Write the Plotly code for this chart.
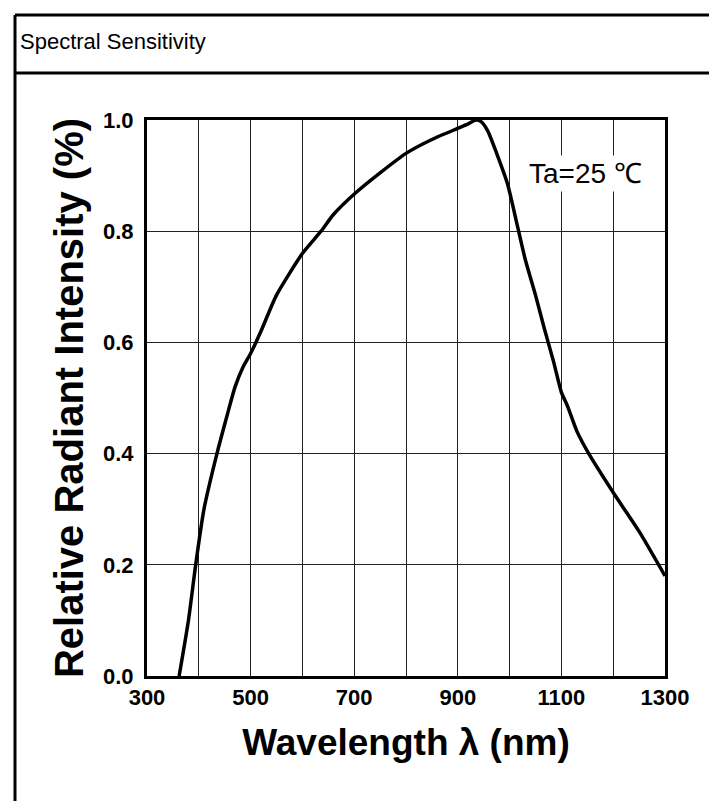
import plotly.graph_objects as go

# Data
wavelength = [362, 380, 394, 410, 435, 455, 470, 485, 500, 520, 550, 600, 636, 660, 704, 750,
              800, 850, 900, 920, 935, 945, 958, 975, 996, 1015, 1030, 1050, 1067, 1085, 1100,
              1112, 1130, 1154, 1200, 1250, 1300]
intensity = [0.0, 0.1, 0.2, 0.3, 0.4, 0.47, 0.52, 0.555, 0.58, 0.62, 0.685, 0.76, 0.8, 0.83, 0.87, 0.905,
             0.94, 0.965, 0.985, 0.993, 1.0, 0.997, 0.98, 0.94, 0.885, 0.81, 0.75, 0.685, 0.625, 0.565, 0.51,
             0.485, 0.44, 0.398, 0.33, 0.26, 0.18]

x_grid = [300, 400, 500, 600, 700, 800, 900, 1000, 1100, 1200, 1300]
x_labels = ["300", "", "500", "", "700", "", "900", "", "1100", "", "1300"]
y_grid = [0.0, 0.2, 0.4, 0.6, 0.8, 1.0]
y_labels = ["0.0", "0.2", "0.4", "0.6", "0.8", "1.0"]

W, H = 717, 801
L, R, T, B = 139, 60, 112, 133
pw, ph = W - L - R, H - T - B

def px(x):
    return (x - L) / pw

def py(y):
    return (H - B - y) / ph

tick_font = dict(family="Liberation Sans, Arial", size=22, color="black", weight="bold")

fig = go.Figure()
fig.add_trace(go.Scatter(x=wavelength, y=intensity, mode="lines",
                         line=dict(color="black", width=3.5, shape="spline", smoothing=0.6),
                         showlegend=False, hoverinfo="skip"))

fig.update_xaxes(range=[300, 1300], tickvals=x_grid, ticktext=x_labels, showgrid=True,
                 gridcolor="#222222", gridwidth=1, showline=True, linecolor="black", linewidth=3,
                 mirror=True, ticks="", tickfont=tick_font, zeroline=False,
                 title=dict(text="Wavelength λ (nm)", standoff=20,
                            font=dict(family="Liberation Sans, Arial", size=37, color="black", weight="bold")))
fig.update_yaxes(range=[0, 1], tickvals=y_grid, ticktext=y_labels, showgrid=True,
                 gridcolor="#222222", gridwidth=1, showline=True, linecolor="black", linewidth=3,
                 mirror=True, ticks="", tickfont=tick_font, zeroline=False, ticklabelstandoff=6,
                 title=dict(text="Relative Radiant Intensity (%)", standoff=8,
                            font=dict(family="Liberation Sans, Arial", size=40, color="black", weight="bold")))

shapes = [
    dict(type="line", xref="paper", yref="paper", x0=px(7), x1=px(717), y0=py(7), y1=py(7),
         line=dict(color="black", width=3)),
    dict(type="line", xref="paper", yref="paper", x0=px(7), x1=px(717), y0=py(65), y1=py(65),
         line=dict(color="black", width=3)),
    dict(type="line", xref="paper", yref="paper", x0=px(7), x1=px(7), y0=py(7), y1=py(801),
         line=dict(color="black", width=3)),
]

annotations = [
    dict(text="Spectral Sensitivity", xref="paper", yref="paper", x=px(10), y=py(34),
         xanchor="left", yanchor="middle", showarrow=False,
         font=dict(family="Liberation Sans, Arial", size=22, color="black")),
    dict(text="Ta=25 ℃", xref="paper", yref="paper", x=px(577), y=py(166),
         xanchor="center", yanchor="middle", showarrow=False, bgcolor="white",
         borderpad=2, font=dict(family="Liberation Sans, Arial", size=28, color="black")),
]

fig.update_layout(width=W, height=H, margin=dict(l=L, r=R, t=T, b=B),
                  paper_bgcolor="white", plot_bgcolor="white",
                  shapes=shapes, annotations=annotations)

fig.write_html("out.html")
